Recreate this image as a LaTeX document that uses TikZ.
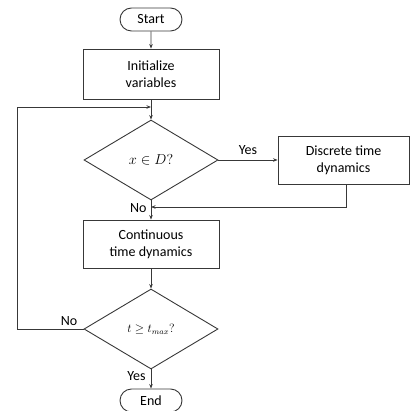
\documentclass[tikz,border=0pt]{standalone}
\usepackage{fontspec}
\setmainfont{Carlito}
\usetikzlibrary{shapes.misc,shapes.geometric,arrows.meta}
\begin{document}
\begin{tikzpicture}[x=1pt,y=1pt,
  line width=0.9pt,
  lc/.style={draw=black!78},
  arr/.style={lc,-{Stealth[length=4.5pt,width=3.5pt]}},
  term/.style={lc,rounded rectangle,minimum width=62pt,minimum height=23pt,inner sep=0pt,font=\fontsize{14}{16}\selectfont},
  proc/.style={lc,rectangle,minimum width=136pt,minimum height=50pt,inner sep=0pt,align=center,font=\fontsize{14}{17}\selectfont},
  dec/.style={lc,diamond,minimum width=134pt,minimum height=80pt,inner sep=0pt,font=\fontsize{14}{16}\selectfont},
  lbl/.style={font=\fontsize{14}{16}\selectfont,inner sep=0pt}]
\useasboundingbox (0,0) rectangle (410,-411);
\node[term] (start) at (151,-19.5) {Start};
\node[proc] (init) at (151,-74) {Initialize\\variables};
\node[dec] (d1) at (151,-160) {\fontsize{15.5}{17}\selectfont$x\in D?$};
\node[proc,minimum width=131pt,minimum height=48pt] (disc) at (343.5,-160) {Discrete time\\dynamics};
\node[proc,minimum height=48pt] (cont) at (151,-244) {Continuous\\time dynamics};
\node[dec] (d2) at (151,-329) {\fontsize{12}{14}\selectfont$t\geq t_{max}?$};
\node[term] (end) at (151,-400.5) {End};
\coordinate (j0) at (151,-107);
\coordinate (j1) at (151,-207);
\coordinate (l1) at (17,-329);
\coordinate (l2) at (17,-107);
\draw[arr] (start) -- (init);
\draw[arr] (init) -- (d1);
\draw[arr] (d1.east) -- (disc.west) node[lbl,midway,above=5pt] {Yes};
\draw[arr] (disc.south -| 346,0) -- (346,-207) -- (j1);
\draw[arr] (d1.south) -- (cont.north);
\node[lbl,anchor=east] at (147,-208) {No};
\draw[arr] (cont) -- (d2);
\draw[arr] (d2.west) -- (l1) -- (l2) -- (j0);
\node[lbl] at (69,-321) {No};
\draw[arr] (d2.south) -- (end.north);
\node[lbl,anchor=east] at (146,-376) {Yes};
\end{tikzpicture}
\end{document}
